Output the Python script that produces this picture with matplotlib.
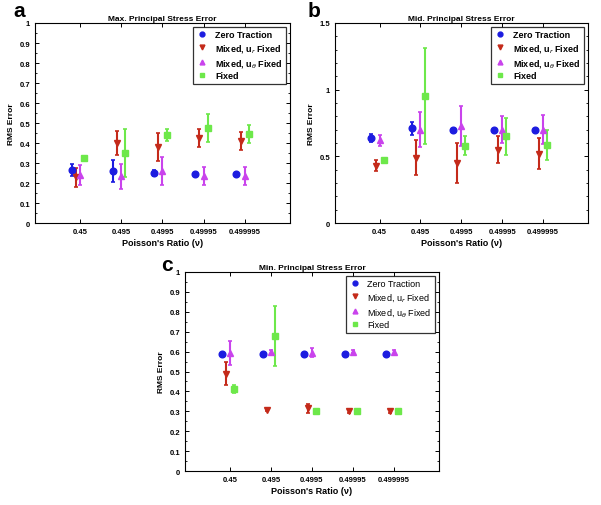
import matplotlib.pyplot as plt
from matplotlib.lines import Line2D
import numpy as np

plt.rcParams['font.family'] = 'Liberation Sans'

# categories (Poisson's ratio)
ratios = ["0.45", "0.495", "0.4995", "0.49995", "0.499995"]
series = ["Zero Traction", r"Mixed, u$_r$ Fixed", r"Mixed, u$_\theta$ Fixed", "Fixed"]

# panel a: max principal stress error (mean, error half-width)
a_zero = [0.265, 0.26, 0.25, 0.245, 0.245]
a_zero_err = [0.03, 0.055, 0.015, 0.005, 0.005]
a_ur = [0.23, 0.40, 0.38, 0.425, 0.41]
a_ur_err = [0.048, 0.06, 0.07, 0.045, 0.047]
a_ut = [0.24, 0.235, 0.26, 0.235, 0.235]
a_ut_err = [0.05, 0.062, 0.07, 0.045, 0.045]
a_fix = [0.325, 0.35, 0.44, 0.475, 0.445]
a_fix_err = [0.01, 0.12, 0.028, 0.07, 0.045]

# panel b: mid principal stress error
b_zero = [0.64, 0.71, 0.70, 0.70, 0.70]
b_zero_err = [0.03, 0.05, 0.005, 0.005, 0.005]
b_ur = [0.43, 0.49, 0.45, 0.55, 0.52]
b_ur_err = [0.04, 0.13, 0.15, 0.10, 0.115]
b_ut = [0.62, 0.70, 0.73, 0.70, 0.70]
b_ut_err = [0.04, 0.13, 0.15, 0.10, 0.11]
b_fix = [0.475, 0.95, 0.58, 0.65, 0.585]
b_fix_err = [0.01, 0.36, 0.07, 0.14, 0.11]

# panel c: min principal stress error
c_zero = [0.59, 0.59, 0.59, 0.59, 0.59]
c_zero_err = [0.004, 0.004, 0.004, 0.004, 0.004]
c_ur = [0.49, 0.305, 0.315, 0.30, 0.30]
c_ur_err = [0.058, 0.005, 0.022, 0.006, 0.008]
c_ut = [0.595, 0.60, 0.595, 0.60, 0.60]
c_ut_err = [0.06, 0.01, 0.023, 0.008, 0.01]
c_fix = [0.41, 0.68, 0.30, 0.30, 0.30]
c_fix_err = [0.02, 0.15, 0.005, 0.005, 0.005]

colors = ['#1c1ce0', '#c42a1a', '#c943ec', '#6de84a']
markers = ['o', 'v', '^', 's']
offsets = [-0.2, -0.1, 0.0, 0.1]

fig = plt.figure(figsize=(6.01, 5.06), dpi=100)

panels = [
    ('a', (0.032, 0.977), "Max. Principal Stress Error", [0.058, 0.557, 0.4245, 0.3956],
     [(a_zero, a_zero_err), (a_ur, a_ur_err), (a_ut, a_ut_err), (a_fix, a_fix_err)], 1.0, True),
    ('b', (0.522, 0.977), "Mid. Principal Stress Error", [0.557, 0.557, 0.421, 0.3956],
     [(b_zero, b_zero_err), (b_ur, b_ur_err), (b_ut, b_ut_err), (b_fix, b_fix_err)], 1.5, True),
    ('c', (0.278, 0.476), "Min. Principal Stress Error", [0.308, 0.067, 0.422, 0.3935],
     [(c_zero, c_zero_err), (c_ur, c_ur_err), (c_ut, c_ut_err), (c_fix, c_fix_err)], 1.0, False),
]

x = np.arange(len(ratios))
for letter, lpos, title, rect, data, ymax, boldleg in panels:
    ax = fig.add_axes(rect)
    for i, (vals, errs) in enumerate(data):
        ax.errorbar(x + offsets[i], vals, yerr=errs, fmt=markers[i], color=colors[i],
                    ms=4.8, elinewidth=1.5, capsize=1.5, capthick=1.2)
    ax.set_xlim(-1.1, 5.1)
    ax.set_ylim(0, ymax)
    ax.set_xticks(x)
    ax.set_xticklabels(ratios)
    if ymax == 1.0:
        ax.set_yticks(np.arange(0, 1.01, 0.1))
        ax.set_yticklabels(['0'] + ['%.1f' % v for v in np.arange(0.1, 0.95, 0.1)] + ['1'])
        ax.set_yticks(np.arange(0.05, 1.0, 0.1), minor=True)
    else:
        ax.set_yticks([0, 0.5, 1, 1.5])
        ax.set_yticklabels(['0', '0.5', '1', '1.5'])
        ax.set_yticks(np.arange(0.1, 1.5, 0.1), minor=True)
    ax.tick_params(direction='in', top=True, right=True, labelsize=5.5, length=3, width=0.7)
    ax.tick_params(which='minor', direction='in', right=True, left=True, length=1.5, width=0.6)
    for t in ax.get_xticklabels() + ax.get_yticklabels():
        t.set_fontweight('bold')
    ax.set_title(title, fontsize=6, fontweight='bold', pad=2)
    ax.set_xlabel("Poisson's Ratio (\u03bd)", fontsize=6.5, fontweight='bold', labelpad=2)
    ax.set_ylabel("RMS Error", fontsize=6, fontweight='bold', labelpad=3)
    for s in ax.spines.values():
        s.set_linewidth(0.8)
    # legend shows markers only
    handles = [Line2D([], [], ls='none', marker=markers[i], color=colors[i], ms=3.5)
               for i in range(4)]
    leg = ax.legend(handles, series, loc='upper right', frameon=True, fancybox=False,
                    edgecolor='black', borderaxespad=0.4, handletextpad=0.8,
                    handlelength=1.2, labelspacing=0.3,
                    prop={'size': 6.5, 'weight': 'bold' if boldleg else 'normal'})
    leg.get_frame().set_linewidth(0.9)
    fig.text(lpos[0], lpos[1], letter, fontsize=15, fontweight='bold',
             va='center', ha='center')

fig.savefig('out.png', dpi=100)
